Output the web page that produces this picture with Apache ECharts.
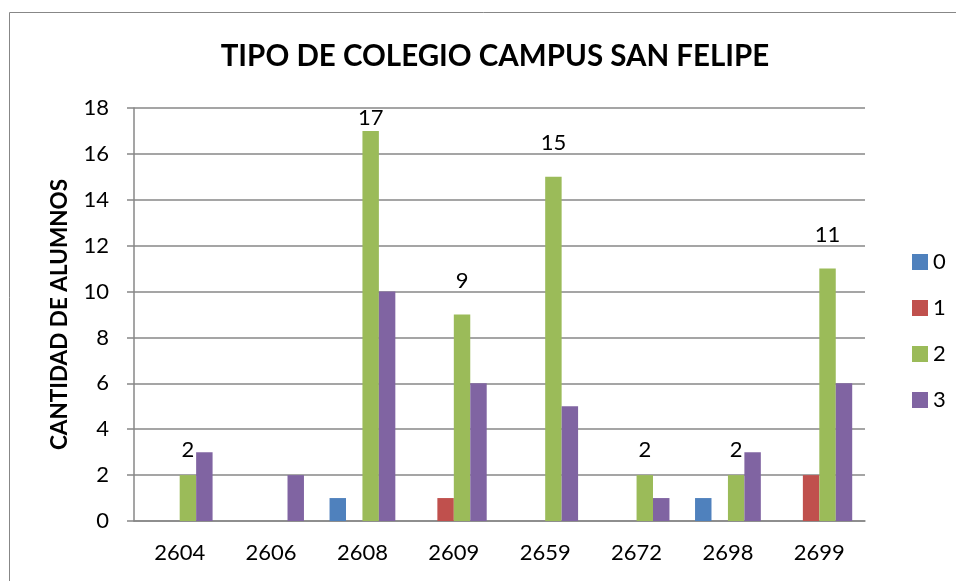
<!DOCTYPE html>
<html>
<head>
<meta charset="utf-8">
<script src="https://cdn.jsdelivr.net/npm/echarts@6/dist/echarts.min.js"></script>
<style>
  html, body { margin: 0; padding: 0; background: #fff; }
  #chart { width: 956px; height: 581px; }
</style>
</head>
<body>
<div id="chart"></div>
<script>
// School codes on the x axis
const categories = ['2604', '2606', '2608', '2609', '2659', '2672', '2698', '2699'];
// Student counts per school type (null = no students)
const tipo0 = [null, null, 1, null, null, null, 1, null];
const tipo1 = [null, null, null, 1, null, null, null, 2];
const tipo2 = [2, null, 17, 9, 15, 2, 2, 11];
const tipo3 = [3, 2, 10, 6, 5, 1, 3, 6];
const seriesNames = ['0', '1', '2', '3'];
const yTicks = { min: 0, max: 18, interval: 2 };

const FONT = 'Lato';
const colors = ['#4F81BD', '#C0504D', '#9BBB59', '#8064A2'];

// Gap between a bar's top and its value label, in pixels
function labelGap(v) {
  if (v >= 17) return 2;
  if (v <= 2) return 14;
  return 23;
}

function bar(name, data, color, showLabel) {
  const items = data.map(function (v) {
    if (!showLabel || v == null) return v;
    return { value: v, label: { distance: labelGap(v) } };
  });
  return {
    name: name,
    type: 'bar',
    data: items,
    barGap: '0%',
    barCategoryGap: '28%',
    itemStyle: { color: color },
    label: {
      show: showLabel,
      position: 'top',
      distance: 2,
      color: '#000',
      fontFamily: FONT,
      fontSize: 22
    }
  };
}

const chart = echarts.init(document.getElementById('chart'), null, { renderer: 'canvas' });
chart.setOption({
  animation: false,
  backgroundColor: '#fff',
  color: colors,
  graphic: [{
    type: 'rect',
    shape: { x: 9.5, y: 12.5, width: 960, height: 600 },
    style: { fill: 'none', stroke: '#878787', lineWidth: 1 },
    silent: true
  }],
  title: {
    text: 'TIPO DE COLEGIO CAMPUS SAN FELIPE',
    left: 490,
    textAlign: 'center',
    top: 36,
    textStyle: { fontFamily: FONT, fontWeight: 'bold', fontSize: 29.5, color: '#000' }
  },
  legend: {
    orient: 'vertical',
    left: 907,
    top: 246,
    itemWidth: 16,
    itemHeight: 16,
    itemGap: 24,
    icon: 'rect',
    textStyle: { fontFamily: FONT, fontSize: 22, color: '#000' },
    data: seriesNames
  },
  grid: { left: 134, right: 91, top: 108, bottom: 60, containLabel: false },
  xAxis: {
    type: 'category',
    data: categories,
    axisLine: { lineStyle: { color: '#878787', width: 1.5 } },
    axisTick: { show: false },
    axisLabel: { fontFamily: FONT, fontSize: 22, color: '#000', margin: 21 }
  },
  yAxis: {
    type: 'value',
    min: yTicks.min,
    max: yTicks.max,
    interval: yTicks.interval,
    name: 'CANTIDAD DE ALUMNOS',
    nameLocation: 'middle',
    nameGap: 63,
    nameTextStyle: { fontFamily: FONT, fontWeight: 'bold', fontSize: 22.5, color: '#000' },
    axisLine: { show: true, lineStyle: { color: '#878787', width: 1.5 } },
    axisTick: { show: true, length: 7, lineStyle: { color: '#878787', width: 1.5 } },
    axisLabel: { fontFamily: FONT, fontSize: 22, color: '#000', margin: 25 },
    splitLine: { lineStyle: { color: '#878787', width: 1.5 } }
  },
  series: [
    bar(seriesNames[0], tipo0, colors[0], false),
    bar(seriesNames[1], tipo1, colors[1], false),
    bar(seriesNames[2], tipo2, colors[2], true),
    bar(seriesNames[3], tipo3, colors[3], false)
  ]
});
</script>
</body>
</html>
